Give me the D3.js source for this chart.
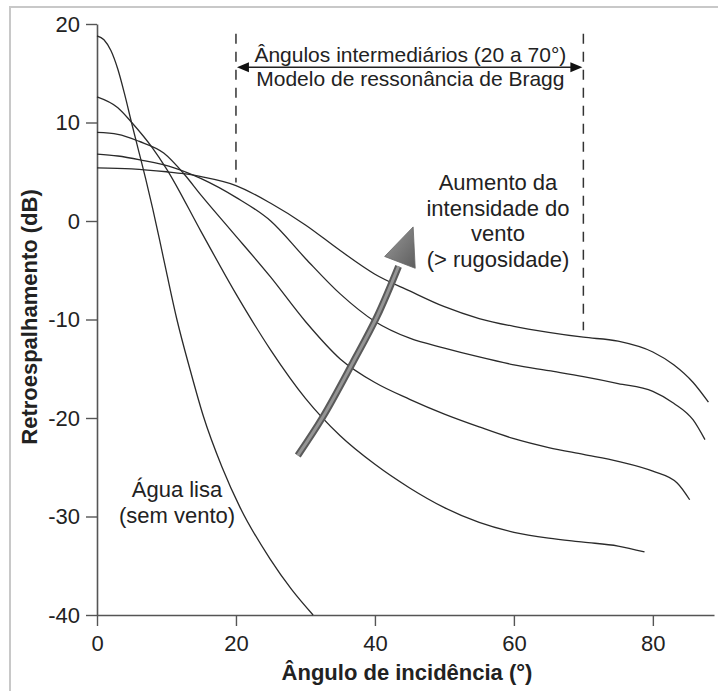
<!DOCTYPE html>
<html>
<head>
<meta charset="utf-8">
<script src="https://cdn.jsdelivr.net/npm/d3@7/dist/d3.min.js"></script>
<style>
  body { margin: 0; background: #fff; }
  svg { display: block; font-family: "Liberation Sans", Arial, sans-serif; }
</style>
</head>
<body>
<div id="chart"></div>
<script>
// Curves: [angle (deg), backscatter (dB)]
const aguaLisa = [[0,18.8],[1,18.4],[2,17.3],[3,15.4],[4,12.8],[5,9.9],[6,7.1],[7,4.3],[8,1.3],[9,-1.9],[10,-5.2],[11.5,-10.0],[13.4,-15.1],[15.3,-19.8],[18,-25.0],[20.6,-29.1],[24.9,-34.3],[28,-37.4],[31.1,-40]];
const vento1 = [[0,12.6],[3,11.5],[5,10.0],[8,7.4],[10,5.3],[15,-1.1],[20,-7.4],[25,-13.1],[30,-18.0],[35,-21.8],[40,-24.7],[45,-27.1],[50,-29.1],[55,-30.6],[60,-31.6],[65,-32.2],[70,-32.6],[75,-33.0],[78.8,-33.6]];
const vento2 = [[0,9.0],[3,8.8],[6,8.1],[9.6,6.9],[12.5,4.8],[15,2.6],[19.1,-0.8],[25,-5.7],[30,-10.2],[35,-14.0],[40,-16.4],[45,-18.1],[50,-19.6],[55,-20.9],[60,-22.1],[65,-23.0],[70,-23.7],[75,-24.4],[80,-25.4],[83.5,-26.6],[85.3,-28.3]];
const vento3 = [[0,6.8],[3,6.6],[6.2,6.2],[11.1,5.4],[15,4.3],[20,2.4],[25,0.0],[30,-3.8],[35,-7.4],[40,-10.2],[45,-11.9],[50,-12.9],[55,-13.8],[60,-14.6],[65,-15.2],[70,-15.8],[75,-16.5],[80,-17.3],[83,-18.5],[85.8,-20.2],[87.5,-22.2]];
const vento4 = [[0,5.4],[5,5.3],[10,5.0],[12.5,4.8],[15,4.5],[20,3.6],[25,1.8],[30,-0.4],[35,-3.0],[40,-5.4],[45,-7.1],[50,-8.7],[55,-9.9],[60,-10.7],[65,-11.3],[70,-11.8],[75,-12.2],[80,-13.3],[83,-14.6],[85.8,-16.4],[88,-18.4]];
const curves = [aguaLisa, vento1, vento2, vento3, vento4];

// wind arrow path (angle, dB)
const windArrow = [[28.9,-23.8],[32.5,-19.9],[36.8,-14.4],[40.3,-9.7],[43.4,-4.6]];
const windHead = [[45.5,-0.6],[41.4,-3.6],[45.8,-4.8]];

const xTicks = [0, 20, 40, 60, 80];
const yTicks = [20, 10, 0, -10, -20, -30, -40];
const braggRange = [20, 70];

var margin = {top: 24, right: 4, bottom: 76, left: 97};
var width = 718 - margin.left - margin.right;
var height = 691 - margin.top - margin.bottom;

const svgRoot = d3.select("#chart").append("svg")
  .attr("width", 718)
  .attr("height", 691);

// light frame around the figure
svgRoot.append("rect")
  .attr("x", 10).attr("y", 7)
  .attr("width", 730).attr("height", 700)
  .attr("fill", "none")
  .attr("stroke", "#c8c8c8")
  .attr("stroke-width", 2);

const svg = svgRoot.append("g")
  .attr("transform", "translate(" + margin.left + "," + margin.top + ")");

var x = d3.scaleLinear().domain([0, 88.8]).range([0, width]);
var y = d3.scaleLinear().domain([-40, 20]).range([height, 0]);

// axes
const yAxis = svg.append("g")
  .call(d3.axisLeft(y).tickValues(yTicks).tickSize(11).tickSizeOuter(0).tickPadding(6).tickFormat(d => String(d)));
const xAxis = svg.append("g")
  .attr("transform", "translate(0," + height + ")")
  .call(d3.axisBottom(x).tickValues(xTicks).tickSize(11).tickSizeOuter(0).tickPadding(9));

[yAxis, xAxis].forEach(a => {
  a.select(".domain").attr("stroke", "#555").attr("stroke-width", 1.6);
  a.selectAll(".tick line").attr("stroke", "#555").attr("stroke-width", 1.4);
  a.selectAll("text").attr("font-size", "22px").attr("fill", "#222")
    .attr("font-family", "'Liberation Sans', Arial, sans-serif");
});

// dashed boundaries of the intermediate angle range
svg.append("line")
  .attr("x1", x(braggRange[0])).attr("x2", x(braggRange[0]))
  .attr("y1", y(19)).attr("y2", y(3.9))
  .attr("stroke", "#333").attr("stroke-width", 1.5).attr("stroke-dasharray", "10,8");
svg.append("line")
  .attr("x1", x(braggRange[1])).attr("x2", x(braggRange[1]))
  .attr("y1", y(19)).attr("y2", y(-11.1))
  .attr("stroke", "#333").attr("stroke-width", 1.5).attr("stroke-dasharray", "10,8");

// double arrow between the dashed lines
const ya = y(15.6);
svg.append("line")
  .attr("x1", x(braggRange[0]) + 8).attr("x2", x(braggRange[1]) - 8)
  .attr("y1", ya).attr("y2", ya)
  .attr("stroke", "#222").attr("stroke-width", 1.5);
svg.append("path")
  .attr("d", `M${x(braggRange[0]) + 1},${ya} l12,-5 l0,10 z`)
  .attr("fill", "#111");
svg.append("path")
  .attr("d", `M${x(braggRange[1]) - 1},${ya} l-12,-5 l0,10 z`)
  .attr("fill", "#111");

svg.append("text")
  .attr("x", x(45.1)).attr("y", y(16.1))
  .attr("text-anchor", "middle").attr("font-size", "21px").attr("fill", "#222")
  .text("Ângulos intermediários (20 a 70°)");
svg.append("text")
  .attr("x", x(45.1)).attr("y", y(13.7))
  .attr("text-anchor", "middle").attr("font-size", "21px").attr("fill", "#222")
  .text("Modelo de ressonância de Bragg");

// curves
var line = d3.line()
  .x(d => x(d[0]))
  .y(d => y(d[1]))
  .curve(d3.curveMonotoneX);

svg.append("g")
  .selectAll("path")
  .data(curves)
  .enter().append("path")
  .attr("d", line)
  .attr("fill", "none")
  .attr("stroke", "#2a2a2a")
  .attr("stroke-width", 1.3);

// wind intensity arrow
const defs = svgRoot.append("defs");
const grad = defs.append("linearGradient").attr("id", "headGrad")
  .attr("x1", "0").attr("y1", "0").attr("x2", "1").attr("y2", "1");
grad.append("stop").attr("offset", "0%").attr("stop-color", "#9a9a9a");
grad.append("stop").attr("offset", "100%").attr("stop-color", "#5e5e5e");

const arrowLine = d3.line().x(d => x(d[0])).y(d => y(d[1])).curve(d3.curveCatmullRom);
svg.append("path")
  .attr("d", arrowLine(windArrow))
  .attr("fill", "none").attr("stroke", "#5a5a5a").attr("stroke-width", 7);
svg.append("path")
  .attr("d", arrowLine(windArrow))
  .attr("fill", "none").attr("stroke", "#959595").attr("stroke-width", 3);
svg.append("path")
  .attr("d", "M" + windHead.map(d => x(d[0]) + "," + y(d[1])).join("L") + "Z")
  .attr("fill", "url(#headGrad)")
  .attr("stroke", "#666").attr("stroke-width", 0.8);

// labels in the plot
const windText = ["Aumento da", "intensidade do", "vento", "(> rugosidade)"];
svg.append("text")
  .attr("text-anchor", "middle").attr("font-size", "22px").attr("fill", "#222")
  .selectAll("tspan")
  .data(windText)
  .enter().append("tspan")
  .attr("x", 401).attr("y", (d, i) => 166 + i * 25.5)
  .text(d => d);

const smoothText = ["Água lisa", "(sem vento)"];
svg.append("text")
  .attr("text-anchor", "middle").attr("font-size", "22px").attr("fill", "#222")
  .selectAll("tspan")
  .data(smoothText)
  .enter().append("tspan")
  .attr("x", 80).attr("y", (d, i) => 473 + i * 26)
  .text(d => d);

// axis titles
svg.append("text")
  .attr("transform", "rotate(-90)")
  .attr("x", -293)
  .attr("y", -60)
  .attr("text-anchor", "middle")
  .attr("font-size", "22px").attr("font-weight", "bold").attr("fill", "#222")
  .text("Retroespalhamento (dB)");

svg.append("text")
  .attr("x", 310)
  .attr("y", 656)
  .attr("text-anchor", "middle")
  .attr("font-size", "22px").attr("font-weight", "bold").attr("fill", "#222")
  .text("Ângulo de incidência (°)");
</script>
</body>
</html>
